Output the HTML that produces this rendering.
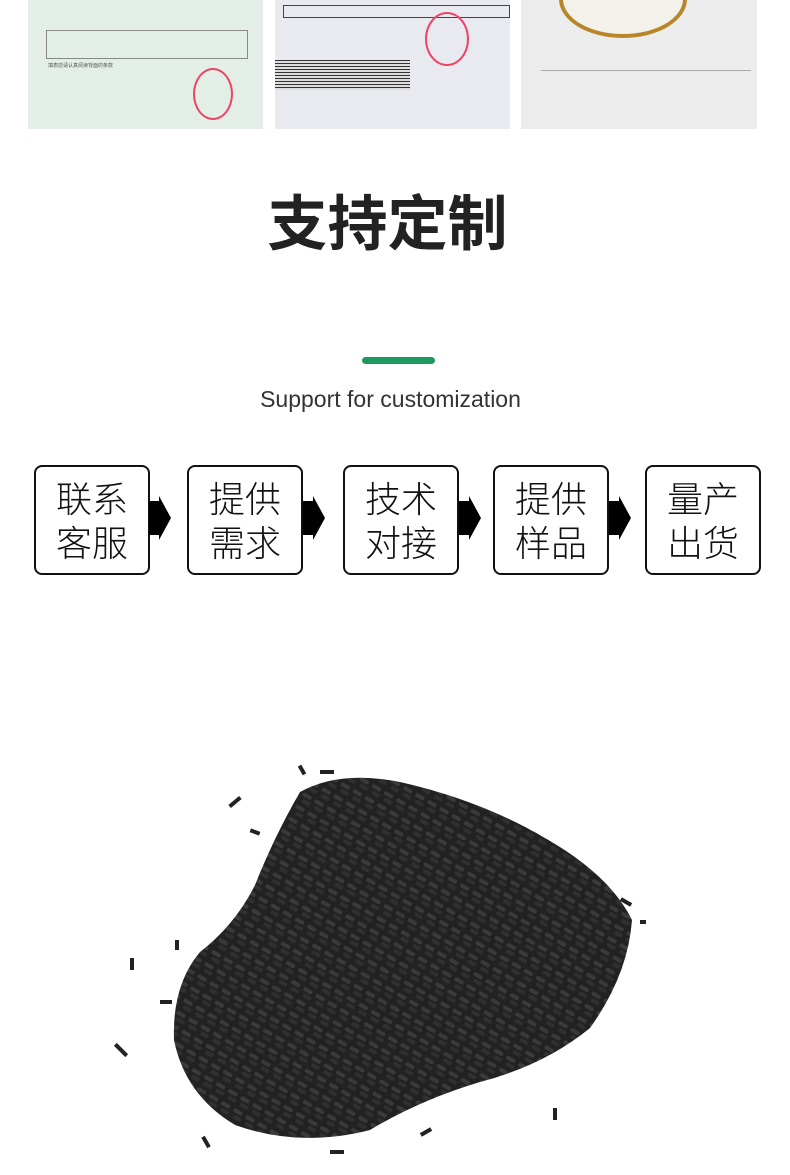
<!DOCTYPE html>
<html><head><meta charset="utf-8"><style>
body{margin:0;width:790px;height:1175px;background:#fff;position:relative;overflow:hidden;font-family:"Liberation Sans","Noto Sans CJK SC",sans-serif}
.img{position:absolute;top:0;height:129px}
.box{position:absolute;top:465px;width:112px;height:106px;border:2px solid #111;border-radius:8px;box-sizing:content-box;text-align:center;font-size:36px;line-height:44px;padding-top:0;color:#111;font-weight:200}
.box div{margin-top:11px}
.arr{position:absolute;top:496px}
</style></head><body>
<div class="img" style="left:28px;width:235px;background:#e3efe6">
 <div style="position:absolute;left:18px;top:30px;width:200px;height:27px;border:1px solid #888"></div>
 <div style="position:absolute;left:20px;top:62px;font-size:5px;color:#555">填表前请认真阅读背面的条款</div>
 <div style="position:absolute;left:165px;top:68px;width:36px;height:48px;border:2px solid #e46;border-radius:50%"></div>
</div>
<div class="img" style="left:275px;width:235px;background:#e9eaf0">
 <div style="position:absolute;left:8px;top:5px;width:225px;height:11px;border:1px solid #444"></div>
 <div style="position:absolute;left:0;top:60px;width:135px;height:30px;background:repeating-linear-gradient(#333 0 1px,#ddd 1px 3px)"></div>
 <div style="position:absolute;left:150px;top:12px;width:40px;height:50px;border:2px solid #e46;border-radius:50%"></div>
</div>
<div class="img" style="left:521px;width:236px;background:#ececec">
 <div style="position:absolute;left:38px;top:-40px;width:120px;height:70px;border:4px solid #b8862a;border-radius:50%;background:#f2f2ea"></div>
 <div style="position:absolute;left:20px;top:70px;width:210px;height:1px;background:#aaa"></div>
</div>
<div style="position:absolute;left:0;width:775px;top:189px;text-align:center;font-size:60px;font-weight:bold;color:#222;line-height:72px">支持定制</div>
<div style="position:absolute;left:362px;top:357px;width:73px;height:7px;border-radius:4px;background:#1e9a5e"></div>
<div style="position:absolute;left:0;width:781px;top:386px;text-align:center;font-size:23px;color:#333">Support for customization</div>

<div class="box" style="left:34px"><div>联系<br>客服</div></div>
<div class="box" style="left:187px"><div>提供<br>需求</div></div>
<div class="box" style="left:343px"><div>技术<br>对接</div></div>
<div class="box" style="left:493px"><div>提供<br>样品</div></div>
<div class="box" style="left:645px"><div>量产<br>出货</div></div>
<svg class="arr" style="left:149px" width="24" height="44"><polygon points="0,5 10,5 10,0 22,22 10,44 10,39 0,39" fill="#000"/></svg>
<svg class="arr" style="left:303px" width="24" height="44"><polygon points="0,5 10,5 10,0 22,22 10,44 10,39 0,39" fill="#000"/></svg>
<svg class="arr" style="left:459px" width="24" height="44"><polygon points="0,5 10,5 10,0 22,22 10,44 10,39 0,39" fill="#000"/></svg>
<svg class="arr" style="left:609px" width="24" height="44"><polygon points="0,5 10,5 10,0 22,22 10,44 10,39 0,39" fill="#000"/></svg>

<svg style="position:absolute;left:0;top:0" width="790" height="1175">
<defs>
<pattern id="p" width="14" height="14" patternUnits="userSpaceOnUse" patternTransform="rotate(30)"><rect width="14" height="14" fill="#222"/><rect x="1" y="2" width="10" height="4" rx="2" fill="#3a3a3a"/><rect x="4" y="8" width="9" height="4" rx="2" fill="#303030"/></pattern></defs>
<path d="M300,792 Q340,770 400,782 Q480,800 545,838 Q610,875 632,920 Q628,975 590,1028 Q545,1065 480,1082 Q420,1100 370,1130 Q300,1148 235,1125 Q185,1095 174,1040 Q172,985 200,952 Q235,925 255,885 Q275,835 300,792 Z" fill="url(#p)"/>
<g fill="#222">
<rect x="228" y="800" width="14" height="4" transform="rotate(-40 235 802)"/>
<rect x="130" y="958" width="4" height="12"/>
<rect x="113" y="1048" width="16" height="4" transform="rotate(45 121 1050)"/>
<rect x="553" y="1108" width="4" height="12"/>
<rect x="330" y="1150" width="14" height="4"/>
<rect x="300" y="765" width="4" height="10" transform="rotate(-30 302 770)"/>
<rect x="640" y="920" width="6" height="4"/>
<rect x="200" y="1140" width="12" height="4" transform="rotate(60 206 1142)"/>
<rect x="160" y="1000" width="12" height="4"/>
<rect x="420" y="1130" width="12" height="4" transform="rotate(-30 426 1132)"/>
<rect x="620" y="900" width="12" height="4" transform="rotate(30 626 902)"/>
<rect x="320" y="770" width="14" height="4"/>
<rect x="175" y="940" width="4" height="10"/>
<rect x="250" y="830" width="10" height="4" transform="rotate(20 255 832)"/>
</g>
</svg>
</body></html>
